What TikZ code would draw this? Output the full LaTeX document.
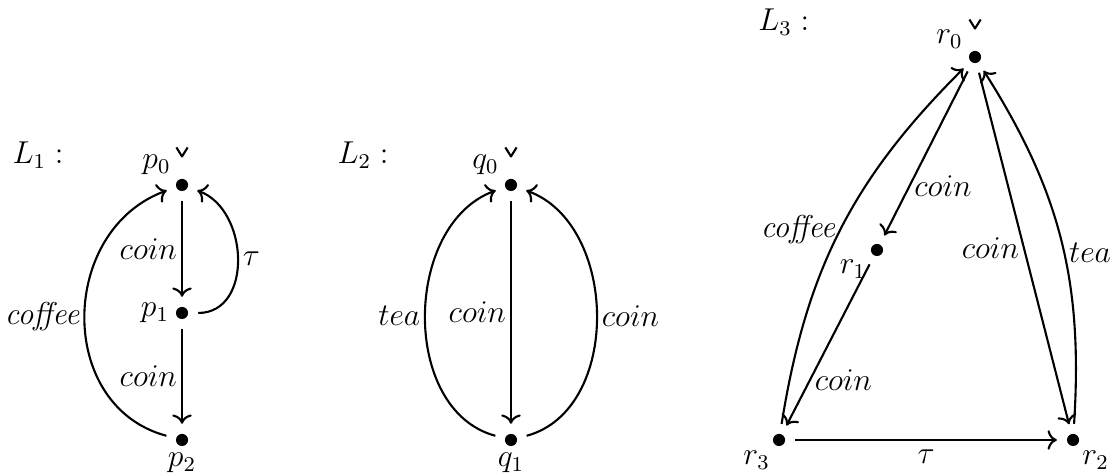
\documentclass[tikz,border=0pt]{standalone}
\usetikzlibrary{calc,arrows.meta}
\begin{document}
\begin{tikzpicture}[
  every path/.style={line width=0.8pt},
  >={To[scale=1.05]},
  every node/.style={font=\fontsize{12}{14}\selectfont},
  state/.style={circle, inner sep=0pt, minimum size=11.5pt,
    path picture={\fill (path picture bounding box.center) circle (2.3pt);}},
  lbl/.style={inner sep=1.5pt},
  initmark/.style={line width=0.8pt, line join=round}
]
\useasboundingbox (0,0) rectangle (14.933,6.333);

% ---- L1 ----
\node at (0.507,4.267) {$L_1:$};
\node[state] (p0) at (2.427,3.867) {};
\node[state] (p1) at (2.427,2.160) {};
\node[state] (p2) at (2.427,0.467) {};
\node at ($(p0)+(-0.34,0.27)$) {$p_0$};
\node at ($(p1)+(-0.36,0)$) {$p_1$};
\node at ($(p2)+(0,-0.31)$) {$p_2$};
\draw[initmark] ($(p0)+(-0.075,0.5)$) -- ($(p0)+(0,0.38)$) -- ($(p0)+(0.075,0.5)$);
\draw[->] (p0) -- node[lbl,left] {$coin$} (p1);
\draw[->] (p1) -- node[lbl,left] {$coin$} (p2);
\draw[->] (p1) to[out=0,in=-20,looseness=1.15] node[lbl,right] {$\tau$} (p0);
\draw[->] (p2) to[out=165,in=200,looseness=1.2] node[lbl,left] {\textit{coffee}} (p0);

% ---- L2 ----
\node at (4.84,4.267) {$L_2:$};
\node[state] (q0) at (6.813,3.867) {};
\node[state] (q1) at (6.813,0.467) {};
\node at ($(q0)+(-0.34,0.27)$) {$q_0$};
\node at ($(q1)+(0,-0.31)$) {$q_1$};
\draw[initmark] ($(q0)+(-0.075,0.5)$) -- ($(q0)+(0,0.38)$) -- ($(q0)+(0.075,0.5)$);
\draw[->] (q0) -- node[lbl,left] {$coin$} (q1);
\draw[->] (q1) to[out=165,in=200,looseness=1.03] node[lbl,left] {$tea$} (q0);
\draw[->] (q1) to[out=15,in=-20,looseness=1.03] node[lbl,right] {$coin$} (q0);

% ---- L3 ----
\node at (10.45,6.04) {$L_3:$};
\node[state] (r0) at (13.0,5.573) {};
\node[state] (r1) at (11.693,3.0) {};
\node[state] (r3) at (10.387,0.467) {};
\node[state] (r2) at (14.307,0.467) {};
\node at ($(r0)+(-0.34,0.24)$) {$r_0$};
\node at ($(r1)+(-0.32,-0.26)$) {$r_1$};
\node at ($(r3)+(-0.3,-0.27)$) {$r_3$};
\node at ($(r2)+(0.3,-0.27)$) {$r_2$};
\draw[initmark] ($(r0)+(-0.075,0.5)$) -- ($(r0)+(0,0.38)$) -- ($(r0)+(0.075,0.5)$);
\draw[->] (r0) -- node[lbl,right,pos=0.7] {$coin$} (r1);
\draw[->] (r1) -- node[lbl,right,pos=0.72] {$coin$} (r3);
\draw[->] (r3) to[bend left=18] node[lbl,left,pos=0.5] {\textit{coffee}} (r0);
\draw[->] (r0) -- node[lbl,left,pos=0.5] {$coin$} (r2);
\draw[->] (r2) to[bend right=18] node[lbl,right,pos=0.46] {$tea$} (r0);
\draw[->] (r3) -- node[lbl,below=2pt] {$\tau$} (r2);
\end{tikzpicture}
\end{document}
